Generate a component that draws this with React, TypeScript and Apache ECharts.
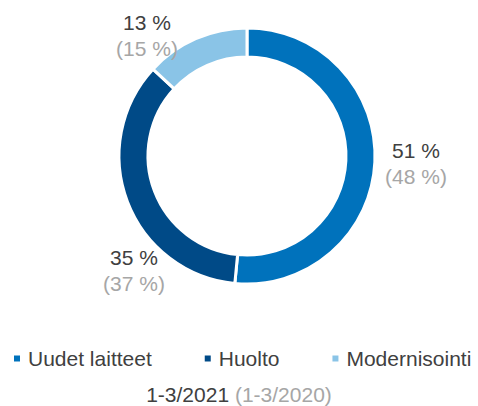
import React, { useEffect, useRef } from "react";
import * as echarts from "echarts";

const categories = ["Uudet laitteet", "Huolto", "Modernisointi"];
const currentShare = [51, 35, 13];
const previousShare = [48, 37, 15];
const periodCurrent = "1-3/2021";
const periodPrevious = "(1-3/2020)";
const colors = ["#0072BC", "#004A87", "#8AC4E7"];

const FONT = "'Liberation Sans', Arial, sans-serif";

export default function App() {
  const ref = useRef<HTMLDivElement>(null);
  useEffect(() => {
    if (!ref.current) return;
    const chart = echarts.init(ref.current, undefined, { renderer: "svg" });
    const labelPos: [number, number][] = [
      [416, 163],
      [134, 270],
      [147, 35],
    ];
    chart.setOption({
      animation: false,
      color: colors,
      title: {
        text: `{a|${periodCurrent}} {b|${periodPrevious}}`,
        left: "center",
        top: 381,
        padding: [2, 5, 2, 5],
        textStyle: {
          fontWeight: "normal",
          fontSize: 21,
          lineHeight: 22,
          fontFamily: FONT,
          rich: {
            a: { fontSize: 21, color: "#404040", fontFamily: FONT, fontWeight: "normal", lineHeight: 22 },
            b: { fontSize: 21, color: "#A6A6A6", fontFamily: FONT, fontWeight: "normal", lineHeight: 22 },
          },
        },
      },
      legend: {
        data: categories,
        left: 12,
        top: 343,
        width: 466,
        padding: [5, 0, 5, 0],
        itemWidth: 8,
        itemHeight: 8,
        itemGap: 51,
        icon: "rect",
        textStyle: {
          fontSize: 21,
          color: "#404040",
          fontFamily: FONT,
          padding: [0, 0, 0, 2],
        },
      },
      series: [
        {
          type: "pie",
          radius: [99, 128],
          center: [247, 156],
          startAngle: 90,
          clockwise: true,
          itemStyle: { borderColor: "#ffffff", borderWidth: 3 },
          labelLine: { show: false },
          label: {
            show: true,
            position: "inside",
            overflow: "none",
            formatter: (p: any) =>
              `{a|${currentShare[p.dataIndex]} %}\n{b|(${previousShare[p.dataIndex]} %)}`,
            rich: {
              a: { fontSize: 21, color: "#404040", fontFamily: FONT, lineHeight: 26, align: "center" },
              b: { fontSize: 21, color: "#A6A6A6", fontFamily: FONT, lineHeight: 26, align: "center" },
            },
          },
          labelLayout: (params: any) => {
            const p = labelPos[params.dataIndex];
            return { x: p[0], y: p[1], align: "center", verticalAlign: "middle" };
          },
          emphasis: { disabled: true },
          data: categories.map((name, i) => ({ name, value: currentShare[i] })),
        },
      ],
    });
    return () => chart.dispose();
  }, []);
  return (
    <div
      ref={ref}
      style={{ position: "absolute", left: 0, top: 0, width: 478, height: 406 }}
    />
  );
}
